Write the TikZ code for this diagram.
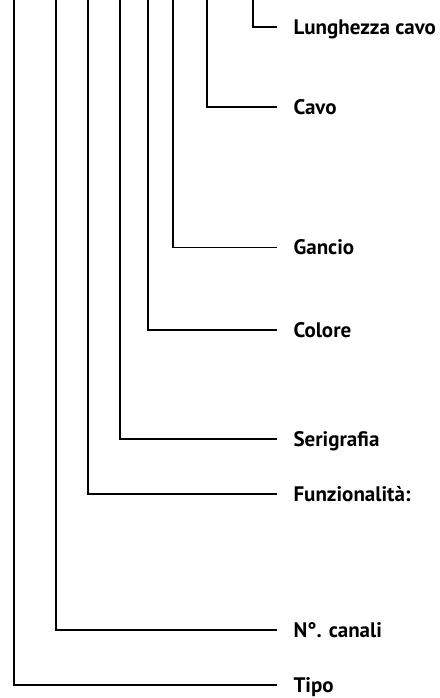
\documentclass[tikz,border=0pt]{standalone}
\usepackage{fontspec}
\setmainfont{PT Sans}
\usepackage{tikz}

\begin{document}
\begin{tikzpicture}[x=1pt,y=-1pt,line width=1.1pt,
  lab/.style={anchor=west,inner xsep=16pt,inner ysep=0pt,text height=14.7pt,text depth=0pt,font=\bfseries\fontsize{21}{21}\selectfont}]
\useasboundingbox (0,0) rectangle (439,698);
\node[lab](lung) at (277,27) {Lunghezza cavo};
\node[lab](cavo) at (277,107) {Cavo};
\node[lab](gancio) at (277,247.5) {Gancio};
\node[lab](colore) at (277,330) {Colore};
\node[lab](seri) at (277,439) {Serigrafia};
\node[lab](funz) at (277,494) {Funzionalità:};
\node[lab](canali) at (277,630) {N°. canali};
\node[lab](tipo) at (277,685) {Tipo};

\coordinate (t1) at (14,0);
\coordinate (t2) at (56,0);
\coordinate (t3) at (88,0);
\coordinate (t4) at (120,0);
\coordinate (t5) at (148,0);
\coordinate (t6) at (173,0);
\coordinate (t7) at (207,0);
\coordinate (t8) at (253,0);

\draw (t1) |- (tipo.west);
\draw (t2) |- (canali.west);
\draw (t3) |- (funz.west);
\draw (t4) |- (seri.west);
\draw (t5) |- (colore.west);
\draw (t6) |- (gancio.west);
\draw (t7) |- (cavo.west);
\draw (t8) |- (lung.west);
\end{tikzpicture}
\end{document}
